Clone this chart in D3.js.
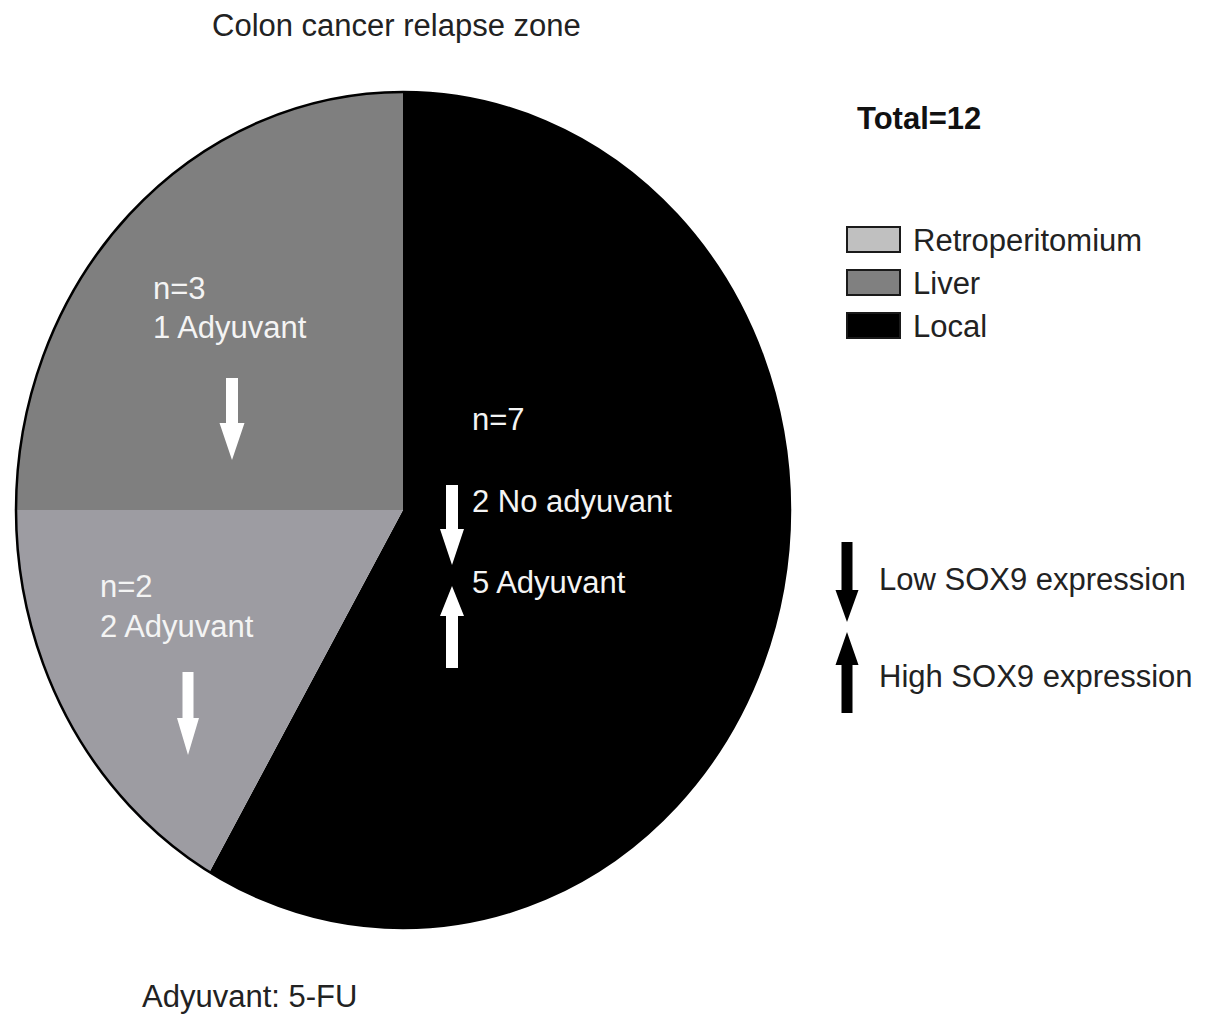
<!DOCTYPE html>
<html>
<head>
<meta charset="utf-8">
<script src="https://cdn.jsdelivr.net/npm/d3@7"></script>
<style>
html,body{margin:0;padding:0;background:#fff;}
svg{display:block;font-family:"Liberation Sans",Arial,sans-serif;}
</style>
</head>
<body>
<svg id="chart" width="1205" height="1030"></svg>
<script>
// ---- data ----
const categories = ["Local", "Retroperitomium", "Liver"];
const counts = [7, 2, 3];
const sliceColors = ["#000000", "#9d9ca2", "#7f7f7f"];
const legendOrder = ["Retroperitomium", "Liver", "Local"];
const legendColors = ["#c0c0c0", "#808080", "#000000"];
const sliceLabels = [
  ["n=7", "2 No adyuvant", "5 Adyuvant"],
  ["n=2", "2 Adyuvant"],
  ["n=3", "1 Adyuvant"]
];
const title = "Colon cancer relapse zone";
const totalLabel = "Total=12";
const footnote = "Adyuvant: 5-FU";
const sox9Labels = ["Low SOX9 expression", "High SOX9 expression"];

// ---- drawing ----
const svg = d3.select("#chart");
const cx = 403, cy = 510, rx = 387, ry = 418;
const FS = "31px";

const pie = d3.pie().sort(null).value(d => d)(counts);
const arc = d3.arc().innerRadius(0).outerRadius(ry);

const pieG = svg.append("g")
  .attr("transform", `translate(${cx},${cy}) scale(${rx / ry},1)`);
pieG.selectAll("path.slice").data(pie).join("path")
  .attr("class", "slice")
  .attr("d", arc)
  .attr("fill", (d, i) => sliceColors[i]);
pieG.append("ellipse")
  .attr("rx", ry).attr("ry", ry)
  .attr("fill", "none").attr("stroke", "#000").attr("stroke-width", 2.5)
  .attr("vector-effect", "non-scaling-stroke");

// arrow helper: x center, y top, y bottom, dir down/up
function arrow(g, x, yTop, yBot, dir, color, shaftW, headW, headL) {
  let p;
  const s = shaftW / 2, h = headW / 2;
  if (dir === "down") {
    p = `M${x - s},${yTop} L${x + s},${yTop} L${x + s},${yBot - headL} L${x + h},${yBot - headL} L${x},${yBot} L${x - h},${yBot - headL} L${x - s},${yBot - headL} Z`;
  } else {
    p = `M${x},${yTop} L${x + h},${yTop + headL} L${x + s},${yTop + headL} L${x + s},${yBot} L${x - s},${yBot} L${x - s},${yTop + headL} L${x - h},${yTop + headL} Z`;
  }
  g.append("path").attr("d", p).attr("fill", color);
}

const inG = svg.append("g").attr("fill", "#f4f4f4").style("font-size", FS);
// Local labels
inG.append("text").attr("x", 472).attr("y", 430).text(sliceLabels[0][0]);
inG.append("text").attr("x", 472).attr("y", 512).text(sliceLabels[0][1]);
inG.append("text").attr("x", 472).attr("y", 593).text(sliceLabels[0][2]);
arrow(svg, 452, 485, 565, "down", "#fff", 12, 24, 36);
arrow(svg, 452, 586, 668, "up", "#fff", 12, 24, 30);
// Retro labels
inG.append("text").attr("x", 100).attr("y", 597).text(sliceLabels[1][0]);
inG.append("text").attr("x", 100).attr("y", 637).text(sliceLabels[1][1]);
arrow(svg, 188, 672, 755, "down", "#fff", 11, 22, 37);
// Liver labels
inG.append("text").attr("x", 153).attr("y", 299).text(sliceLabels[2][0]);
inG.append("text").attr("x", 153).attr("y", 338).text(sliceLabels[2][1]);
arrow(svg, 232, 378, 460, "down", "#fff", 12, 25, 37);

// Title
svg.append("text").attr("x", 212).attr("y", 36)
  .attr("fill", "#222").style("font-size", FS).text(title);

// Total
svg.append("text").attr("x", 857).attr("y", 129)
  .attr("fill", "#111").style("font-size", "31px").style("font-weight", "bold").text(totalLabel);

// Legend
const legY = d3.scalePoint().domain(legendOrder).range([227, 313]);
const leg = svg.append("g");
leg.selectAll("rect").data(legendOrder).join("rect")
  .attr("x", 847).attr("y", d => legY(d))
  .attr("width", 53).attr("height", 25)
  .attr("fill", (d, i) => legendColors[i])
  .attr("stroke", "#1a1a1a").attr("stroke-width", 2);
leg.selectAll("text").data(legendOrder).join("text")
  .attr("x", 913).attr("y", d => legY(d) + 24)
  .attr("fill", "#222").style("font-size", FS).text(d => d);

// SOX9 legend
arrow(svg, 847, 542, 622, "down", "#000", 11, 23, 32);
arrow(svg, 847, 632, 713, "up", "#000", 11, 23, 33);
svg.append("text").attr("x", 879).attr("y", 590)
  .attr("fill", "#222").style("font-size", FS).text(sox9Labels[0]);
svg.append("text").attr("x", 879).attr("y", 687)
  .attr("fill", "#222").style("font-size", FS).text(sox9Labels[1]);

// Footnote
svg.append("text").attr("x", 142).attr("y", 1007)
  .attr("fill", "#222").style("font-size", FS).text(footnote);
</script>
</body>
</html>
